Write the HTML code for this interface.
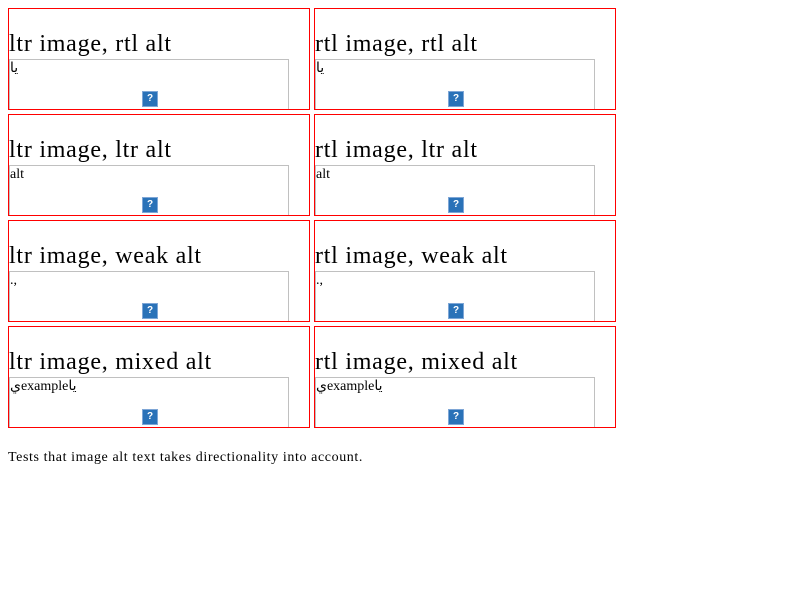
<!DOCTYPE html>
<html><head><style>
body{margin:0;background:#fff;font-family:"Liberation Serif",serif;}
.b{position:absolute;width:300px;height:100px;border:1px solid #f00;overflow:hidden;}
.h{position:absolute;left:0;top:21px;font-size:24px;line-height:28px;white-space:nowrap;color:#000;letter-spacing:0.75px;}
.g{position:absolute;left:0;top:50px;width:278px;height:60px;border:1px solid #c0c0c0;}
.t{position:absolute;left:0;top:1px;font-size:14px;line-height:16px;font-family:"Liberation Serif","DejaVu Sans",serif;}
.q{position:absolute;left:132px;top:31px;width:12px;height:12px;border:1px solid #7ea6d6;background:#2a72b8;padding:1px;box-sizing:content-box;}
.q span{display:block;width:12px;height:12px;background:#2a72b8;color:#fff;font:bold 10px/12px "Liberation Sans",sans-serif;text-align:center;}
.f{position:absolute;left:8px;top:450px;font-size:14px;letter-spacing:0.6px;}
</style></head><body>
<div class="b" style="left:8px;top:8px"><div class="h">ltr image, rtl alt</div><div class="g"><div class="t">يا</div><div class="q"><span>?</span></div></div></div>
<div class="b" style="left:314px;top:8px"><div class="h">rtl image, rtl alt</div><div class="g"><div class="t">يا</div><div class="q"><span>?</span></div></div></div>
<div class="b" style="left:8px;top:114px"><div class="h">ltr image, ltr alt</div><div class="g"><div class="t">alt</div><div class="q"><span>?</span></div></div></div>
<div class="b" style="left:314px;top:114px"><div class="h">rtl image, ltr alt</div><div class="g"><div class="t">alt</div><div class="q"><span>?</span></div></div></div>
<div class="b" style="left:8px;top:220px"><div class="h">ltr image, weak alt</div><div class="g"><div class="t">.,</div><div class="q"><span>?</span></div></div></div>
<div class="b" style="left:314px;top:220px"><div class="h">rtl image, weak alt</div><div class="g"><div class="t">.,</div><div class="q"><span>?</span></div></div></div>
<div class="b" style="left:8px;top:326px"><div class="h">ltr image, mixed alt</div><div class="g"><div class="t">يexampleيا</div><div class="q"><span>?</span></div></div></div>
<div class="b" style="left:314px;top:326px"><div class="h">rtl image, mixed alt</div><div class="g"><div class="t">يexampleيا</div><div class="q"><span>?</span></div></div></div>
<div class="f">Tests that image alt text takes directionality into account.</div>
</body></html>
